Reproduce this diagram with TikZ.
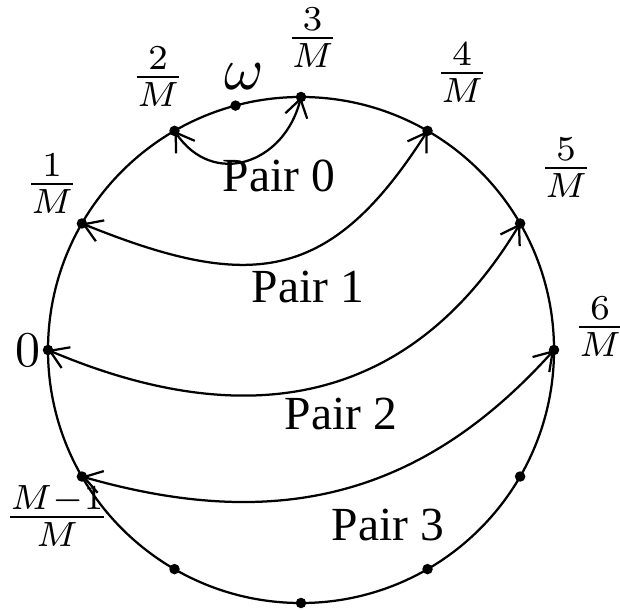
\documentclass[tikz,border=0pt]{standalone}
\usepackage{fontspec}
\newfontfamily\pairfont{Liberation Serif}
\usetikzlibrary{arrows.meta}
\begin{document}
\begin{tikzpicture}[x=0.2pt,y=0.2pt,
  dotnode/.style={circle,fill=black,inner sep=0pt,minimum size=2.1pt},
  pairarrow/.style={{Straight Barb[length=3.5pt,width=4.5pt]}-{Straight Barb[length=3.5pt,width=4.5pt]}, line width=0.45pt},
  pairlabel/.style={font=\pairfont\fontsize{9.5}{11}\selectfont, anchor=base, inner sep=0pt},
  marklabel/.style={anchor=base, inner sep=0pt}]
\useasboundingbox (-301,-259) rectangle (319,350);
\draw[line width=0.45pt] (0,0) circle[radius=253];
\foreach \a/\n in {90/p3,120/p2,150/p1,180/p0,210/pm,240/q1,270/q2,300/q3,330/q4,0/p6,30/p5,60/p4,105/w}
  \coordinate (\n) at (\a:253);
\draw[pairarrow] (p2) to[out=-56,in=256,looseness=1.35] (p3);
\draw[pairarrow] (p1) to[out=-22,in=237.5,looseness=1.3] (p4);
\draw[pairarrow] (p0) to[out=-23,in=239,looseness=1.12] (p5);
\draw[pairarrow] (pm) to[out=-16,in=228,looseness=1.05] (p6);
\foreach \n in {p3,p2,p1,p0,pm,q1,q2,q3,q4,p6,p5,p4,w}
  \node[dotnode] (d\n) at (\n) {};
\node[marklabel] (l3) at (11.5,299.8) {$\frac{3}{M}$};
\node[marklabel] (l2) at (-143,260.5) {$\frac{2}{M}$};
\node[marklabel] (l1) at (-249,153.5) {$\frac{1}{M}$};
\node[marklabel] (l4) at (161,264.5) {$\frac{4}{M}$};
\node[marklabel] (l5) at (265,169.5) {$\frac{5}{M}$};
\node[marklabel] (l6) at (299,10.5) {$\frac{6}{M}$};
\node[marklabel] (lm) at (-244,-179.5) {$\frac{M-1}{M}$};
\node[marklabel] (l0) at (-272.5,-17) {$0$};
\node[marklabel, scale=1.2] (lw) at (-56.5,260) {$\omega$};
\node[pairlabel] (t0) at (-22.3,158.3) {Pair 0};
\node[pairlabel] (t1) at (7,47) {Pair 1};
\node[pairlabel] (t2) at (40,-80) {Pair 2};
\node[pairlabel] (t3) at (87,-190) {Pair 3};
\end{tikzpicture}
\end{document}
